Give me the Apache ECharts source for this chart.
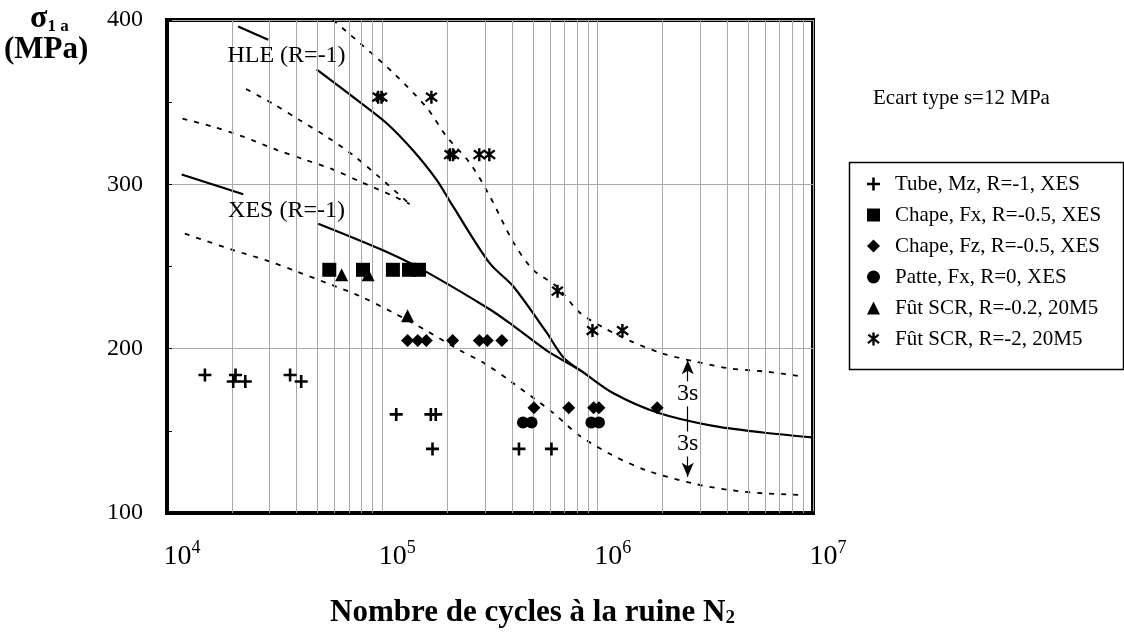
<!DOCTYPE html>
<html><head><meta charset="utf-8">
<script src="https://cdn.jsdelivr.net/npm/echarts@6/dist/echarts.min.js"></script>
<style>html,body{margin:0;padding:0;background:#fff}#c{width:1124px;height:632px}</style>
</head><body><div id="c"></div>
<script>
// ---- data ----
const yTicks = [100, 200, 300, 400];
const minorX = [2e4,3e4,4e4,5e4,6e4,7e4,8e4,9e4,2e5,3e5,4e5,5e5,6e5,7e5,8e5,9e5,2e6,3e6,4e6,5e6,6e6,7e6,8e6,9e6];
const seriesNames = ['Tube, Mz, R=-1, XES','Chape, Fx, R=-0.5, XES','Chape, Fz, R=-0.5, XES','Patte, Fx, R=0, XES','Fût SCR, R=-0.2, 20M5','Fût SCR, R=-2, 20M5'];
const tube = [[15000,184],[20800,184],[20300,180],[23100,180],[37300,184],[42000,180],[116000,160],[168000,160],[177000,160],[171000,139],[431000,139],[610000,139]];
const chapeFx = [[56700,248],[81300,248],[112000,248],[133000,248],[148000,248]];
const chapeFz = [[131000,205],[146000,205],[160000,205],[212000,205],[282000,205],[307000,205],[359000,205],[506000,164],[734000,164],[958000,164],[1014000,164],[1890000,164]];
const patte = [[450000,155],[493000,155],[935000,155],[1014000,155]];
const futA = [[64700,245],[85900,245],[131000,220]];
const futB = [[95600,353],[99100,353],[169000,353],[206000,318],[213000,318],[282000,318],[314000,318],[651000,235],[946000,211],[1303000,211]];
const hleStart = [[21400,396],[29500,388]];
const hleCurve = [[49500,370],[78600,350],[105000,337],[138000,321],[178000,303],[212000,287],[315000,252],[405000,238],[578000,210],[690000,195],[825000,187]];
const xesStart = [[11700,306],[22600,294]];
const xesCurve = [[50400,276],[100000,260],[149000,249],[315000,224],[405000,214],[578000,199],[825000,187],[1178000,173],[1905000,161],[3430000,153],[5850000,149],[9980000,146]];
const hlePlus = [[59000,400],[78600,386],[112000,368],[160000,347],[199000,329],[255000,313],[315000,293],[405000,265],[501000,248],[643000,238],[825000,222],[1058000,213],[1458000,204],[2009000,197],[2871000,192],[4098000,188],[6066000,186],[8970000,183]];
const hleMinus = [[23300,358],[31100,349],[41400,339],[55100,329],[72700,318],[95600,305],[134000,288]];
const xesPlus = [[11800,340],[16400,335],[22600,329],[32300,321],[43700,315],[59100,309],[80900,301],[112000,293],[134000,288]];
const xesMinus = [[12100,270],[20300,260],[30100,253],[40000,247],[55100,240],[78600,232],[112000,222],[160000,211],[229000,199],[299000,191],[405000,179],[620000,161],[825000,147],[1178000,135],[1681000,126],[2768000,118],[4098000,114],[5848000,112],[8970000,111]];
const arrow3s = {x: 2620000, top: 193, bottom: 122, label1: 172.5, label2: 142};
const curveLabels = [[35900,378,'HLE (R=-1)'],[35900,284,'XES (R=-1)']];

// ---- rendering ----
const FONT = 'Liberation Serif';
const crossPath = 'path://M4,0 L6,0 L6,4 L10,4 L10,6 L6,6 L6,10 L4,10 L4,6 L0,6 L0,4 L4,4 Z';
const starPath = 'path://M4.1,0 L5.9,0 L5.9,10 L4.1,10 Z M1.6,1.0 L9.8,7.5 L8.8,8.9 L0.5,2.4 Z M9.5,2.4 L1.2,8.9 L0.2,7.5 L8.4,1.0 Z';

function scatter(name, data, symbol, size) {
  return {name, type:'scatter', data, symbol, symbolSize:size, itemStyle:{color:'#000', opacity:1}, z:5};
}
function line(data, dashed) {
  return {type:'line', data, showSymbol:false, symbol:'none', smooth:0.3, silent:true,
    lineStyle:{color:'#000', width: dashed ? 1.8 : 2.2, type: dashed ? [5,7] : 'solid', opacity:1}, z:3};
}

const chart = echarts.init(document.getElementById('c'), null, {renderer:'canvas'});
chart.setOption({
  animation:false,
  backgroundColor:'#fff',
  textStyle:{fontFamily:FONT},
  grid:{left:167, right:311, top:20, bottom:119, show:true, borderColor:'#000', borderWidth:4, backgroundColor:'transparent'},
  xAxis:{
    type:'log', logBase:10, min:1e4, max:1e7,
    axisLine:{show:true, lineStyle:{color:'#000', width:4}},
    axisTick:{show:false},
    splitLine:{show:true, lineStyle:{color:'#a8a8a8', width:1}},
    axisLabel:{
      margin:26, padding:[0,0,0,30],
      formatter: v => '{b|10}{s|' + Math.round(Math.log10(v)) + '}',
      rich:{
        b:{fontSize:28, fontFamily:FONT, color:'#000', lineHeight:36},
        s:{fontSize:18, fontFamily:FONT, color:'#000', lineHeight:18, verticalAlign:'top'}
      }
    }
  },
  yAxis:{
    type:'value', min:100, max:400, interval:100,
    axisLine:{show:true, lineStyle:{color:'#000', width:4}},
    axisTick:{show:true, inside:true, length:5, lineStyle:{color:'#000'}},
    minorTick:{show:true, splitNumber:2, length:5, lineStyle:{color:'#000'}},
    splitLine:{show:true, lineStyle:{color:'#a8a8a8', width:1}},
    axisLabel:{fontSize:24, fontFamily:FONT, color:'#000', margin:24,
      formatter: v => yTicks.includes(v) ? String(v) : ''}
  },
  legend:{
    orient:'vertical', left:862, top:168, itemWidth:13, itemHeight:13, itemGap:9,
    data: seriesNames,
    textStyle:{fontSize:21, fontFamily:FONT, color:'#000', lineHeight:22, padding:[0,0,0,10]},
    selectedMode:false
  },
  graphic:[
    {type:'rect', left:847, top:160, shape:{width:274, height:207}, style:{fill:'none', stroke:'#000', lineWidth:1.5}, silent:true},
    {type:'text', left:873, top:88, style:{text:'Ecart type s=12 MPa', font:'21px "Liberation Serif"', fill:'#000'}},
    {type:'text', left:30, top:3, style:{text:'{a|σ}{b|1 a}', rich:{
      a:{font:'bold 32px "Liberation Serif"', fill:'#000', lineHeight:32},
      b:{font:'bold 17px "Liberation Serif"', fill:'#000', lineHeight:17, verticalAlign:'bottom'}}}},
    {type:'text', left:4, top:34, style:{text:'(MPa)', font:'bold 31px "Liberation Serif"', fill:'#000'}},
    {type:'text', left:330, top:597, style:{text:'{a|Nombre de cycles à la ruine N}{b|2}', rich:{
      a:{font:'bold 31px "Liberation Serif"', fill:'#000', lineHeight:31},
      b:{font:'bold 19px "Liberation Serif"', fill:'#000', lineHeight:19, verticalAlign:'bottom'}}}}
  ],
  series:[
    {type:'line', data:[], silent:true, z:1,
      markLine:{silent:true, symbol:'none', label:{show:false}, animation:false,
        lineStyle:{color:'#a8a8a8', width:1, type:'solid'},
        data: minorX.map(v => ({xAxis:v}))}},
    line(hleStart,false), line(hleCurve,false), line(xesStart,false), line(xesCurve,false),
    line(hlePlus,true), line(hleMinus,true), line(xesPlus,true), line(xesMinus,true),
    scatter(seriesNames[0], tube, crossPath, 13),
    scatter(seriesNames[1], chapeFx, 'rect', 14),
    scatter(seriesNames[2], chapeFz, 'diamond', 13),
    scatter(seriesNames[3], patte, 'circle', 12),
    scatter(seriesNames[4], futA, 'triangle', 13),
    scatter(seriesNames[5], futB, starPath, 13),
    {type:'scatter', silent:true, symbolSize:0, z:6, itemStyle:{opacity:1},
      data: curveLabels.map(d => ({value:[d[0], d[1]], label:{formatter:d[2]}})),
      label:{show:true, position:'inside', fontSize:24, fontFamily:FONT, color:'#000', opacity:1}},
    {type:'scatter', silent:true, symbolSize:0, z:7, itemStyle:{opacity:1},
      data:[[arrow3s.x, arrow3s.label1],[arrow3s.x, arrow3s.label2]],
      label:{show:true, position:'inside', formatter:'3s', fontSize:24, fontFamily:FONT, color:'#000', opacity:1, backgroundColor:'#fff', padding:[1,0,0,0]},
      markLine:{silent:true, symbol:['arrow','arrow'], symbolSize:[9,14], label:{show:false},
        lineStyle:{color:'#000', width:1.2, type:'solid'},
        data:[[{coord:[arrow3s.x, arrow3s.top]},{coord:[arrow3s.x, arrow3s.bottom]}]]}}
  ]
});
</script></body></html>
